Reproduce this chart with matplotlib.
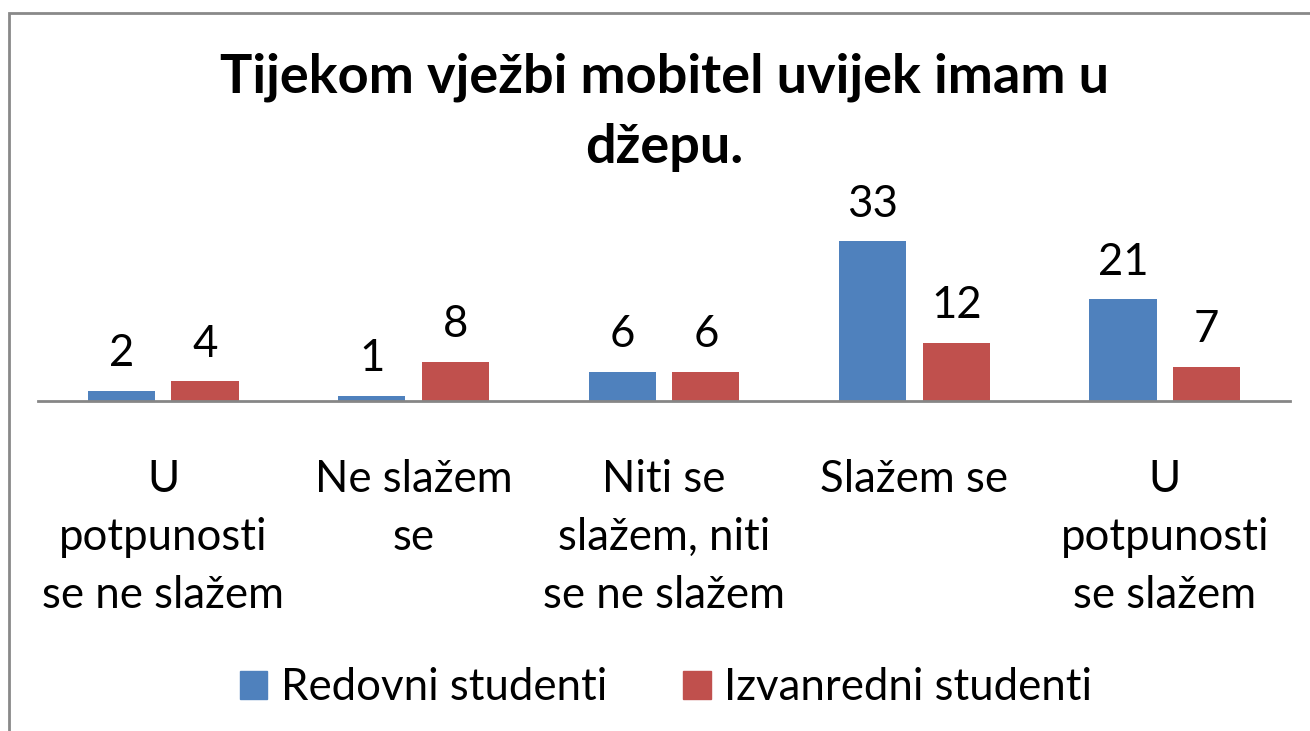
import matplotlib.pyplot as plt
from matplotlib.patches import Patch, Rectangle
import numpy as np

categories = [
    "U\npotpunosti\nse ne slažem",
    "Ne slažem\nse",
    "Niti se\nslažem, niti\nse ne slažem",
    "Slažem se",
    "U\npotpunosti\nse slažem",
]
redovni = [2, 1, 6, 33, 21]
izvanredni = [4, 8, 6, 12, 7]
series_names = ["Redovni studenti", "Izvanredni studenti"]
title = "Tijekom vježbi mobitel uvijek imam u\ndžepu."

BLUE = "#4F81BD"
RED = "#C0504D"
FS = 31.5

plt.rcParams["font.family"] = ["Lato", "DejaVu Sans"]

W, H = 1310, 731
fig = plt.figure(figsize=(W / 100, H / 100), dpi=100)

# outer chart frame (only top and left edges fall inside the canvas)
fig.patches.append(Rectangle((9 / W, -0.1), 1.2, (H - 13) / H + 0.1,
                             transform=fig.transFigure, fill=False,
                             edgecolor="#898989", linewidth=2))

# plot area in pixels: baseline at y=400, x from 38 to 1290
left, right, base, top = 38, 1290, 400.5, 231.8
ax = fig.add_axes([left / W, 1 - base / H, (right - left) / W, (base - top) / H])

x = np.arange(len(categories))
bw = 0.268
off = 0.167
b1 = ax.bar(x - off, redovni, bw, color=BLUE, label=series_names[0])
b2 = ax.bar(x + off, izvanredni, bw, color=RED, label=series_names[1])

for bars, vals in ((b1, redovni), (b2, izvanredni)):
    for rect, v in zip(bars, vals):
        ax.annotate(str(v), (rect.get_x() + rect.get_width() / 2, v),
                    xytext=(0, 12), textcoords="offset points",
                    ha="center", va="bottom", fontsize=FS)

ax.set_xlim(-0.5, 4.5)
ax.set_ylim(0, 35)
ax.set_yticks([])
ax.set_xticks(x)
ax.set_xticklabels(categories, fontsize=FS, linespacing=1.52)
ax.tick_params(axis="x", length=0, pad=42)
for s in ("top", "right", "left"):
    ax.spines[s].set_visible(False)
ax.spines["bottom"].set_color("#868686")
ax.spines["bottom"].set_linewidth(2)

fig.text((left + right) / 2 / W, 1 - 112 / H, title, ha="center", va="center",
         fontsize=39, fontweight="bold", linespacing=1.52)

handles = [Patch(color=BLUE), Patch(color=RED)]
fig.legend(handles, series_names, loc="center", bbox_to_anchor=(666 / W, 1 - 688 / H),
           ncol=2, frameon=False, fontsize=FS, handlelength=0.62, handleheight=0.62,
           handletextpad=0.3, columnspacing=1.75)

fig.savefig("out.png", dpi=100, facecolor="white")
